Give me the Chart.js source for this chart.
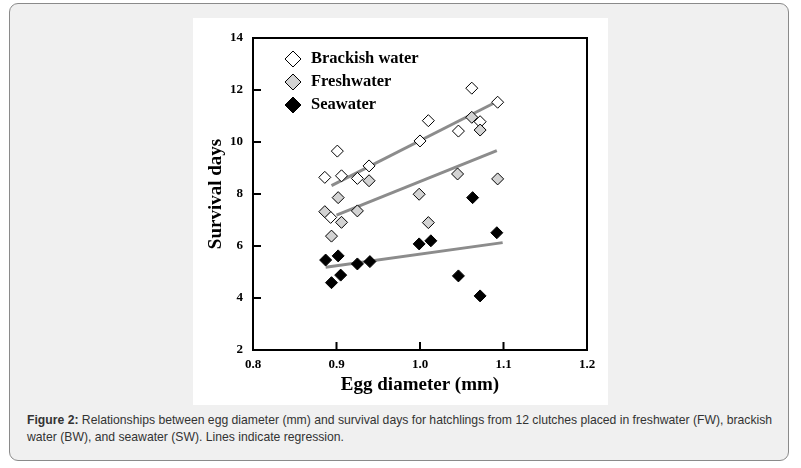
<!DOCTYPE html>
<html>
<head>
<meta charset="utf-8">
<script src="https://cdn.jsdelivr.net/npm/chart.js@4.4.1/dist/chart.umd.min.js"></script>
<style>
  html, body { margin: 0; padding: 0; background: #ffffff; }
  body { width: 801px; height: 468px; position: relative; overflow: hidden; }
  #panel { position: absolute; left: 9px; top: 3px; width: 780px; height: 458px;
           background: #f0f0f0; border: 1px solid #8a8a8a; border-radius: 9px; box-sizing: border-box; }
  #imgbox { position: absolute; left: 193px; top: 18px; width: 415px; height: 387px; background: #ffffff; }
  #caption { position: absolute; left: 27px; top: 412px; width: 765px;
             font-family: "Liberation Sans", Arial, sans-serif; font-size: 12.2px; line-height: 17px; color: #333333; }
  #caption b { font-weight: bold; }
</style>
</head>
<body>
<div id="panel"></div>
<div id="imgbox"><canvas id="c" width="415" height="387"></canvas></div>
<div id="caption"><b>Figure 2:</b> Relationships between egg diameter (mm) and survival days for hatchlings from 12 clutches placed in freshwater (FW), brackish water (BW), and seawater (SW). Lines indicate regression.</div>
<script>
// ---- data ----
const seriesNames = ["Brackish water", "Freshwater", "Seawater"];
const brackishX = [1.062, 1.093, 1.010, 1.046, 1.072, 1.000, 0.901, 0.939, 0.906, 0.886, 0.925, 0.893];
const brackishY = [12.07, 11.53, 10.82, 10.42, 10.78, 10.04, 9.65, 9.08, 8.70, 8.64, 8.60, 7.10];
const freshX = [1.062, 1.072, 1.045, 1.093, 0.939, 0.902, 0.999, 0.925, 0.886, 0.906, 1.010, 0.894];
const freshY = [10.95, 10.46, 8.77, 8.58, 8.51, 7.86, 7.99, 7.35, 7.32, 6.91, 6.90, 6.38];
const seaX = [1.063, 1.092, 1.013, 0.999, 0.902, 0.887, 0.925, 0.940, 0.905, 0.894, 1.046, 1.072];
const seaY = [7.86, 6.51, 6.20, 6.08, 5.62, 5.46, 5.31, 5.40, 4.88, 4.59, 4.85, 4.08];
// regression line end points
const brackishRegX = [0.894, 1.090];
const brackishRegY = [8.32, 11.52];
const freshRegX = [0.900, 1.092];
const freshRegY = [7.19, 9.67];
const seaRegX = [0.887, 1.099];
const seaRegY = [5.18, 6.13];
const xTicks = [0.8, 0.9, 1.0, 1.1, 1.2];
const yTicks = [2, 4, 6, 8, 10, 12, 14];
const xTitle = "Egg diameter (mm)";
const yTitle = "Survival days";

const pts = (xs, ys) => xs.map((x, i) => ({ x: x, y: ys[i] }));
const serif = "'Liberation Serif', 'Times New Roman', serif";

const styles = [
  { bg: "#ffffff", border: "#000000" },
  { bg: "#d3d3d3", border: "#000000" },
  { bg: "#000000", border: "#000000" }
];

const frameAndLegend = {
  id: "frameAndLegend",
  afterDatasetsDraw(chart) {
    const ctx = chart.ctx;
    const a = chart.chartArea;
    const xs = chart.scales.x, ys = chart.scales.y;
    ctx.save();
    ctx.strokeStyle = "#000";
    ctx.lineWidth = 2;
    ctx.strokeRect(a.left, a.top, a.right - a.left, a.bottom - a.top);
    // inward tick marks
    ctx.beginPath();
    yTicks.forEach(v => {
      if (v === yTicks[0] || v === yTicks[yTicks.length - 1]) return;
      const p = ys.getPixelForValue(v);
      ctx.moveTo(a.left, p); ctx.lineTo(a.left + 8, p);
    });
    xTicks.forEach(v => {
      if (v === xTicks[0] || v === xTicks[xTicks.length - 1]) return;
      const p = xs.getPixelForValue(v);
      ctx.moveTo(p, a.bottom); ctx.lineTo(p, a.bottom - 8);
    });
    ctx.stroke();
    // legend
    ctx.font = "bold 16.5px " + serif;
    ctx.textBaseline = "middle";
    ctx.fillStyle = "#000";
    seriesNames.forEach((name, i) => {
      const cx = a.left + 40, cy = a.top + 21 + i * 23;
      ctx.beginPath();
      ctx.moveTo(cx - 8, cy); ctx.lineTo(cx, cy - 8); ctx.lineTo(cx + 8, cy); ctx.lineTo(cx, cy + 8); ctx.closePath();
      ctx.fillStyle = styles[i].bg; ctx.fill();
      ctx.lineWidth = 1; ctx.strokeStyle = "#000"; ctx.stroke();
      ctx.fillStyle = "#000";
      ctx.textAlign = "left";
      ctx.fillText(name, a.left + 58, cy);
    });
    ctx.restore();
  }
};

const regStyle = { type: "line", showLine: true, borderColor: "#8c8c8c", borderWidth: 3, pointRadius: 0, fill: false, order: 10 };
const scatStyle = (i) => ({ type: "scatter", pointStyle: "rectRot", pointRadius: 6, pointHoverRadius: 6,
  backgroundColor: styles[i].bg, borderColor: styles[i].border, borderWidth: 1, order: 1 });

new Chart(document.getElementById("c"), {
  type: "scatter",
  data: {
    datasets: [
      Object.assign({ label: "BW reg", data: pts(brackishRegX, brackishRegY) }, regStyle),
      Object.assign({ label: "FW reg", data: pts(freshRegX, freshRegY) }, regStyle),
      Object.assign({ label: "SW reg", data: pts(seaRegX, seaRegY) }, regStyle),
      Object.assign({ label: seriesNames[1], data: pts(freshX, freshY) }, scatStyle(1)),
      Object.assign({ label: seriesNames[0], data: pts(brackishX, brackishY) }, scatStyle(0)),
      Object.assign({ label: seriesNames[2], data: pts(seaX, seaY) }, scatStyle(2))
    ]
  },
  options: {
    responsive: false,
    animation: false,
    events: [],
    layout: { padding: { top: 20, right: 21, left: 0, bottom: 0 } },
    plugins: { legend: { display: false }, tooltip: { enabled: false } },
    scales: {
      x: {
        type: "linear", min: 0.8, max: 1.2,
        afterBuildTicks: (s) => { s.ticks = xTicks.map(v => ({ value: v })); },
        afterFit: (s) => { s.height = 55; },
        grid: { display: false, drawTicks: false },
        border: { display: false },
        ticks: { color: "#000", padding: 7, font: { family: serif, size: 13, weight: "bold" },
                 callback: (v) => v.toFixed(1), maxRotation: 0 },
        title: { display: true, text: xTitle, color: "#000", font: { family: serif, size: 19, weight: "bold" },
                 padding: { top: 0, bottom: 9 } }
      },
      y: {
        type: "linear", min: 2, max: 14,
        afterBuildTicks: (s) => { s.ticks = yTicks.map(v => ({ value: v })); },
        afterFit: (s) => { s.width = 60; },
        grid: { display: false, drawTicks: false },
        border: { display: false },
        ticks: { color: "#000", padding: 10, font: { family: serif, size: 13, weight: "bold" } },
        title: { display: true, text: yTitle, color: "#000", font: { family: serif, size: 19, weight: "bold" },
                 padding: { top: 12, bottom: 0 } }
      }
    }
  },
  plugins: [frameAndLegend]
});
</script>
</body>
</html>
